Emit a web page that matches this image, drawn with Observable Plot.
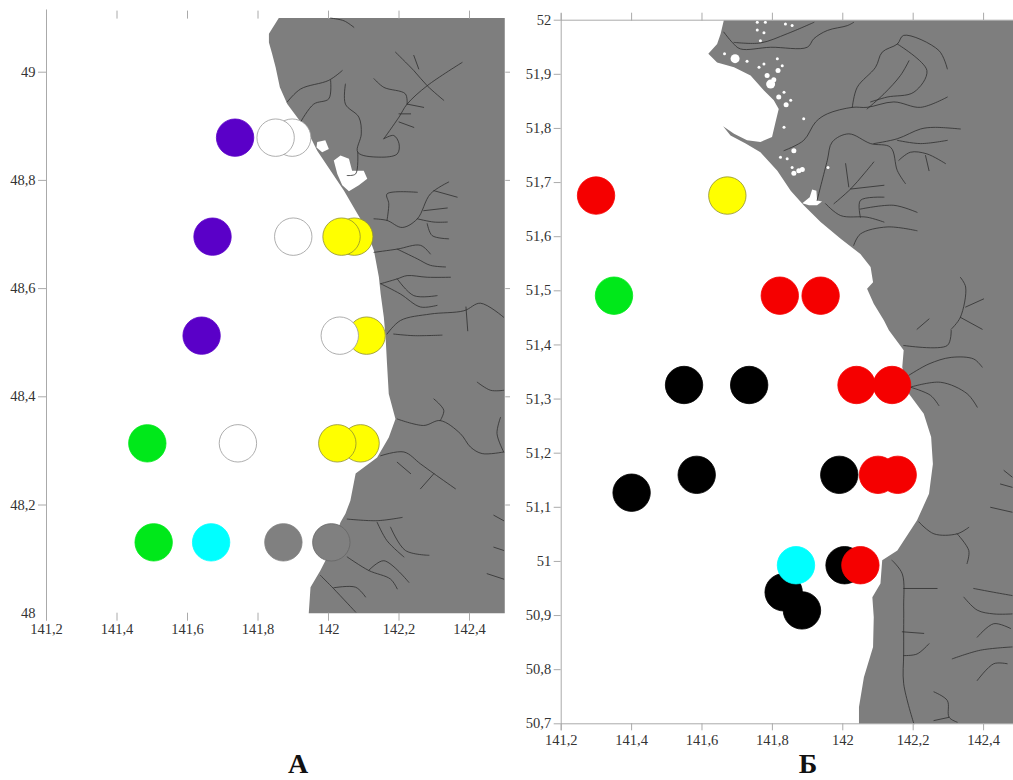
<!DOCTYPE html>
<html>
<head>
<meta charset="utf-8">
<script src="https://cdn.jsdelivr.net/npm/d3@7"></script>
<script src="https://cdn.jsdelivr.net/npm/@observablehq/plot@0.6"></script>
<style>
html,body{margin:0;padding:0;background:#fff;overflow:hidden}
#page{position:relative;width:1013px;height:780px;overflow:hidden;background:#fff}
#page svg{position:absolute;top:0;max-width:none;background:none}
.panel{position:absolute;top:748px;font:bold 28px "Liberation Serif",serif;color:#111;transform:translateX(-50%)}
</style>
</head>
<body>
<div id="page"></div>
<script>
// axis ticks
const xTicks = [141.2,141.4,141.6,141.8,142,142.2,142.4];
const yTicksA = [48,48.2,48.4,48.6,48.8,49];
const yTicksB = [50.7,50.8,50.9,51,51.1,51.2,51.3,51.4,51.5,51.6,51.7,51.8,51.9,52];

// stations, panel А (drawn in this order)
const lonA = [141.735,141.897,141.85, 141.671,141.9,142.073,142.037, 141.64,142.108,142.032, 141.486,141.743,142.091,142.025, 141.504,141.667,141.872,142.008];
const latA = [48.879,48.879,48.879, 48.696,48.696,48.696,48.696, 48.513,48.513,48.513, 48.314,48.314,48.314,48.314, 48.131,48.131,48.131,48.131];
const colA = ["#5a00c8","#fff","#fff","#5a00c8","#fff","#ffff00","#ffff00","#5a00c8","#ffff00","#fff","#00e81a","#fff","#ffff00","#ffff00","#00e81a","#00ffff","#808080","#808080"];
const edgeA = ["#5a00c8","#999","#999","#5a00c8","#999","#8f8f30","#8f8f30","#5a00c8","#8f8f30","#999","#00e81a","#999","#8f8f30","#8f8f30","#00e81a","#00ffff","#808080","#666"];

// stations, panel Б (drawn in this order)
const lonB = [141.299,141.672,141.35,141.821,141.937,141.549,141.734,142.039,142.14,141.585,141.99,142.156,142.1,141.4,141.832,141.884,142.005,141.867,142.05];
const latB = [51.676,51.676,51.491,51.491,51.491,51.326,51.326,51.326,51.326,51.16,51.16,51.16,51.16,51.127,50.943,50.9095,50.993,50.993,50.993];
const colB = ["#f50000","#ffff00","#00e81a","#f50000","#f50000","#000","#000","#f50000","#f50000","#000","#000","#f50000","#f50000","#000","#000","#000","#000","#00ffff","#f50000"];
const edgeB = ["#f50000","#8f8f30","#00e81a","#f50000","#f50000","#000","#000","#f50000","#f50000","#000","#000","#f50000","#f50000","#000","#000","#000","#000","#00ffff","#f50000"];

// land outline, panel А [lon, lat]
const landA = [[141.859,49.1],[141.831,49.071],[141.831,49.055],[141.84,49.034],[141.85,49.009],[141.862,48.972],[141.883,48.941],[141.921,48.908],[141.944,48.886],[141.968,48.855],[142.006,48.818],[142.044,48.781],[142.077,48.744],[142.105,48.713],[142.129,48.67],[142.143,48.621],[142.148,48.59],[142.157,48.547],[142.162,48.51],[142.166,48.461],[142.171,48.405],[142.19,48.359],[142.171,48.325],[142.138,48.288],[142.077,48.258],[142.062,48.208],[142.048,48.184],[142.034,48.168],[142.006,48.116],[141.977,48.079],[141.949,48.048],[141.944,48],[142.5,48],[142.5,49.1]];
const lagoonsA = [
 [[142.015,48.837],[142.034,48.846],[142.058,48.84],[142.067,48.818],[142.1,48.818],[142.11,48.803],[142.086,48.791],[142.058,48.78],[142.039,48.791],[142.025,48.812]],
 [[141.968,48.871],[141.991,48.874],[142.001,48.858],[141.982,48.852],[141.966,48.861]]
];
const riversA = [
 [[141.883,48.945],[141.921,48.969],[142.001,48.985],[142.039,49.003]],
 [[141.921,48.908],[141.958,48.941],[142.001,48.951],[142.006,48.985]],
 [[142.048,48.978],[142.048,48.941],[142.086,48.917],[142.093,48.886],[142.083,48.852],[142.143,48.843],[142.195,48.849],[142.2,48.868],[142.185,48.883],[142.157,48.877]],
 [[142.083,48.852],[142.077,48.812],[142.053,48.809]],
 [[142.157,48.877],[142.2,48.917],[142.223,48.941],[142.28,48.975],[142.379,49.018]],
 [[142.129,48.988],[142.157,48.972],[142.218,48.96],[142.223,48.941]],
 [[142.19,49.037],[142.242,49.003],[142.28,48.975],[142.327,48.948]],
 [[142.242,49.031],[142.256,49.006]],
 [[142.2,48.923],[142.233,48.923]],
 [[142.2,48.908],[142.242,48.898]],
 [[142.223,48.941],[142.27,48.935]],
 [[142.006,49.1],[142.044,49.095],[142.072,49.083]],
 [[142.166,48.726],[142.171,48.757],[142.166,48.775],[142.252,48.778]],
 [[142.129,48.729],[142.166,48.726],[142.209,48.713],[142.252,48.729],[142.289,48.775],[142.341,48.797]],
 [[142.252,48.729],[142.299,48.723],[142.337,48.723]],
 [[142.28,48.72],[142.294,48.698],[142.341,48.692]],
 [[142.27,48.744],[142.337,48.749]],
 [[142.299,48.781],[142.365,48.769]],
 [[142.129,48.667],[142.195,48.673],[142.261,48.68],[142.289,48.664]],
 [[142.195,48.673],[142.252,48.655],[142.289,48.643],[142.332,48.64]],
 [[142.148,48.609],[142.195,48.618],[142.223,48.624],[142.28,48.621],[142.346,48.621]],
 [[142.195,48.618],[142.242,48.587],[142.308,48.587]],
 [[142.148,48.609],[142.204,48.59],[142.261,48.566],[142.308,48.569]],
 [[142.166,48.516],[142.204,48.541],[142.289,48.553],[142.384,48.559],[142.431,48.573],[142.497,48.547]],
 [[142.185,48.516],[142.242,48.513],[142.322,48.514]],
 [[142.39,48.566],[142.395,48.522]],
 [[142.195,48.359],[142.27,48.347],[142.317,48.356],[142.374,48.332],[142.403,48.307],[142.436,48.295],[142.497,48.298]],
 [[142.299,48.396],[142.327,48.375],[142.317,48.356]],
 [[142.422,48.427],[142.46,48.412],[142.497,48.412]],
 [[142.148,48.291],[142.214,48.298],[142.261,48.276],[142.299,48.258],[142.36,48.23]],
 [[142.195,48.279],[142.233,48.258]],
 [[142.261,48.23],[142.299,48.258]],
 [[142.053,48.174],[142.138,48.171],[142.209,48.177]],
 [[142.138,48.168],[142.166,48.134],[142.214,48.104]],
 [[142.176,48.159],[142.218,48.116],[142.285,48.107]],
 [[142.053,48.104],[142.114,48.079],[142.176,48.063],[142.195,48.045]],
 [[142.114,48.079],[142.157,48.097],[142.228,48.057]],
 [[141.977,48.07],[142.015,48.045],[142.077,48.002]],
 [[142.015,48.047],[142.077,48.048],[142.105,48.03]],
 [[142.469,48.181],[142.497,48.171]],
 [[142.469,48.122],[142.497,48.116]],
 [[142.45,48.073],[142.497,48.063]],
 [[142.488,48.362],[142.478,48.332],[142.497,48.298]]
];

// land outline, panel Б [lon, lat]
const landB = [[141.662,52],[141.653,51.975],[141.643,51.956],[141.618,51.938],[141.643,51.922],[141.691,51.913],[141.738,51.898],[141.776,51.87],[141.804,51.852],[141.818,51.836],[141.809,51.812],[141.799,51.784],[141.766,51.775],[141.728,51.778],[141.691,51.79],[141.66,51.804],[141.681,51.787],[141.724,51.772],[141.766,51.756],[141.814,51.722],[141.852,51.685],[141.889,51.658],[141.937,51.627],[141.994,51.596],[142.05,51.568],[142.079,51.544],[142.086,51.516],[142.069,51.504],[142.088,51.476],[142.117,51.445],[142.131,51.427],[142.173,51.39],[142.169,51.359],[142.188,51.31],[142.23,51.273],[142.251,51.23],[142.256,51.18],[142.245,51.125],[142.211,51.076],[142.155,51.02],[142.112,51.002],[142.107,50.959],[142.084,50.934],[142.088,50.897],[142.086,50.842],[142.06,50.786],[142.046,50.731],[142.046,50.7],[142.485,50.7],[142.485,52]];
const lagoonB = [[141.913,51.687],[141.925,51.685],[141.927,51.667],[141.941,51.665],[141.927,51.658],[141.904,51.658],[141.885,51.662],[141.906,51.673]];
const lakesBig = [[141.694,51.929],[141.795,51.882]];
const lakesMid = [[141.818,51.858],[141.839,51.844],[141.816,51.907],[141.785,51.898],[141.861,51.759],[141.861,51.717],[141.885,51.724],[141.875,51.722],[141.804,51.89]];
const lakesSmall = [[141.664,51.938],[141.762,51.913],[141.814,51.929],[141.828,51.916],[141.728,51.924],[141.776,51.919],[141.757,51.982],[141.776,51.977],[141.856,51.99],[141.837,51.993],[141.757,51.996],[141.78,51.996],[141.766,51.962],[141.823,51.747],[141.842,51.744],[141.856,51.728],[141.833,51.802],[141.889,51.818],[141.852,51.852],[141.833,51.867],[141.958,51.728]];
const riversB = [
 [[141.662,51.978],[141.686,51.959],[141.709,51.947],[141.795,51.95],[141.899,51.95],[141.918,51.966],[141.956,51.981],[142.013,51.99],[142.031,51.996]],
 [[141.691,51.959],[141.766,51.958],[141.842,51.975],[141.918,51.996]],
 [[141.833,51.759],[141.889,51.778],[141.923,51.812],[141.956,51.827],[142.027,51.839],[142.069,51.839],[142.145,51.849],[142.221,51.839],[142.297,51.858]],
 [[142.027,51.839],[142.041,51.876],[142.093,51.913],[142.112,51.941],[142.155,51.956],[142.173,51.972],[142.273,51.944],[142.297,51.91]],
 [[142.069,51.836],[142.117,51.864],[142.164,51.898],[142.188,51.925]],
 [[142.155,51.956],[142.239,51.907],[142.202,51.867],[142.126,51.858],[142.079,51.849]],
 [[141.927,51.667],[141.956,51.741],[141.97,51.775],[142.017,51.79],[142.079,51.772],[142.136,51.765],[142.155,51.722],[142.178,51.698]],
 [[142.088,51.772],[142.155,51.781],[142.221,51.799],[142.259,51.802],[142.334,51.799]],
 [[142.155,51.778],[142.221,51.772],[142.297,51.778]],
 [[142.159,51.741],[142.192,51.756],[142.239,51.753],[142.292,51.735]],
 [[142.235,51.75],[142.245,51.722]],
 [[141.951,51.661],[141.994,51.639],[142.069,51.636],[142.117,51.627]],
 [[142.05,51.636],[142.05,51.667],[142.117,51.673]],
 [[142.05,51.651],[142.145,51.658],[142.211,51.645]],
 [[142.031,51.584],[142.05,51.605],[142.126,51.618],[142.211,51.611]],
 [[141.975,51.661],[142.022,51.688],[142.06,51.716],[142.088,51.738]],
 [[142.022,51.688],[142.117,51.695]],
 [[142.008,51.735],[142.017,51.692]],
 [[142.334,51.525],[142.349,51.507],[142.334,51.451],[142.308,51.429]],
 [[142.349,51.47],[142.4,51.485]],
 [[142.334,51.451],[142.396,51.429]],
 [[142.211,51.429],[142.245,51.448]],
 [[142.173,51.399],[142.297,51.399],[142.308,51.427]],
 [[142.188,51.344],[142.245,51.365],[142.308,51.377],[142.372,51.374],[142.396,51.359]],
 [[142.192,51.322],[142.278,51.331],[142.353,51.31],[142.382,51.285]],
 [[142.192,51.322],[142.249,51.307],[142.273,51.288]],
 [[142.216,51.073],[142.259,51.051],[142.325,51.051],[142.358,51.063]],
 [[142.325,51.051],[142.358,51.02],[142.353,50.996]],
 [[142.14,51.002],[142.169,50.977],[142.173,50.916],[142.173,50.873],[142.173,50.829],[142.173,50.774],[142.202,50.7]],
 [[142.173,50.95],[142.268,50.95]],
 [[142.169,50.87],[142.23,50.867]],
 [[142.173,50.826],[142.211,50.829],[142.245,50.848]],
 [[142.372,50.95],[142.429,50.943],[142.481,50.937]],
 [[142.344,50.934],[142.382,50.91],[142.429,50.903],[142.481,50.903]],
 [[142.382,50.86],[142.429,50.885],[142.477,50.876]],
 [[142.311,50.82],[142.391,50.836],[142.481,50.842]],
 [[142.382,50.78],[142.429,50.811],[142.467,50.811]],
 [[142.259,50.759],[142.297,50.743],[142.302,50.712],[142.325,50.703]],
 [[142.259,50.706],[142.302,50.712]],
 [[142.458,51.168],[142.481,51.156]],
 [[142.42,51.1],[142.481,51.091]],
 [[142.448,51.143],[142.481,51.137]]
];

const comma = d => String(d).replace(".", ",");
const axisGrey = "#aaa", labelCol = "#333", landCol = "#7e7e7e", riverCol = "#2e2e2e";
const font = {fontFamily: '"Liberation Serif", serif', fontSize: "14.5px", background: "none"};
const paths = list => list.flatMap((p, id) => p.map(([lon, lat]) => ({id, lon, lat})));
const pts = list => list.map(([lon, lat]) => ({lon, lat}));
const stations = (lon, lat, col, edge) => lon.map((d, i) => ({lon: d, lat: lat[i], col: col[i], edge: edge[i]}));
const xy = {x: "lon", y: "lat"};

const panelA = Plot.plot({
  width: 510, height: 640,
  marginLeft: 46, marginRight: 5.75, marginTop: 17.6, marginBottom: 27.3,
  x: {domain: [141.2, 142.5]},
  y: {domain: [48, 49.1]},
  color: {type: "identity"},
  style: font,
  marks: [
    Plot.line(pts(landA), {...xy, fill: landCol, stroke: "none"}),
    Plot.line(paths(lagoonsA), {...xy, z: "id", fill: "#fff", stroke: "none"}),
    Plot.line(paths(riversA), {...xy, z: "id", stroke: riverCol, strokeWidth: 0.8, curve: "catmull-rom"}),
    Plot.ruleX([141.2], {y1: 47.986, y2: 49.115, stroke: axisGrey}),
    Plot.axisX(xTicks, {anchor: "bottom", tickSize: 8, tickPadding: 3, stroke: axisGrey, fill: labelCol, tickFormat: comma, label: null}),
    Plot.axisX(xTicks, {anchor: "top", tickSize: 8, stroke: axisGrey, fill: "none", label: null}),
    Plot.axisY(yTicksA, {anchor: "left", tickSize: 0, tickPadding: 11, stroke: "none", fill: labelCol, tickFormat: comma, label: null}),
    Plot.axisY(yTicksA.slice(1), {anchor: "left", tickSize: 8, stroke: axisGrey, fill: "none", label: null}),
    Plot.axisY(yTicksA.slice(1), {anchor: "right", tickSize: 6, stroke: axisGrey, fill: "none", label: null}),
    Plot.dot(stations(lonA, latA, colA, edgeA), {...xy, r: 18.7, fill: "col", stroke: "edge", strokeWidth: 0.8})
  ]
});

const panelB = Plot.plot({
  width: 503, height: 760,
  marginLeft: 50.7, marginRight: 0, marginTop: 19.7, marginBottom: 36.7,
  x: {domain: [141.2, 142.485]},
  y: {domain: [50.7, 52]},
  color: {type: "identity"},
  style: font,
  marks: [
    Plot.line(pts(landB), {...xy, fill: landCol, stroke: "none"}),
    Plot.line(pts(lagoonB), {...xy, fill: "#fff", stroke: "none"}),
    Plot.dot(pts(lakesBig), {...xy, r: 4.5, fill: "#fff"}),
    Plot.dot(pts(lakesMid), {...xy, r: 2.5, fill: "#fff"}),
    Plot.dot(pts(lakesSmall), {...xy, r: 1.5, fill: "#fff"}),
    Plot.line(paths(riversB), {...xy, z: "id", stroke: riverCol, strokeWidth: 0.8, curve: "catmull-rom"}),
    Plot.ruleX([141.2], {y1: 50.687, y2: 52.012, stroke: axisGrey}),
    Plot.ruleY([50.7, 52], {stroke: axisGrey}),
    Plot.axisX(xTicks, {anchor: "bottom", tickSize: 7, tickPadding: 4, stroke: axisGrey, fill: labelCol, tickFormat: comma, label: null}),
    Plot.axisX(xTicks, {anchor: "top", tickSize: 8, stroke: axisGrey, fill: "none", label: null}),
    Plot.axisY(yTicksB, {anchor: "left", tickSize: 7, tickPadding: 3, stroke: axisGrey, fill: labelCol, tickFormat: comma, label: null}),
    Plot.dot(stations(lonB, latB, colB, edgeB), {...xy, r: 18.7, fill: "col", stroke: "edge", strokeWidth: 0.8})
  ]
});

const page = document.getElementById("page");
panelA.style.left = "0px";
panelB.style.left = "510px";
page.append(panelA, panelB);
[["А", 298], ["Б", 808]].forEach(([t, x]) => {
  const el = document.createElement("div");
  el.className = "panel";
  el.textContent = t;
  el.style.left = x + "px";
  page.append(el);
});
</script>
</body>
</html>
